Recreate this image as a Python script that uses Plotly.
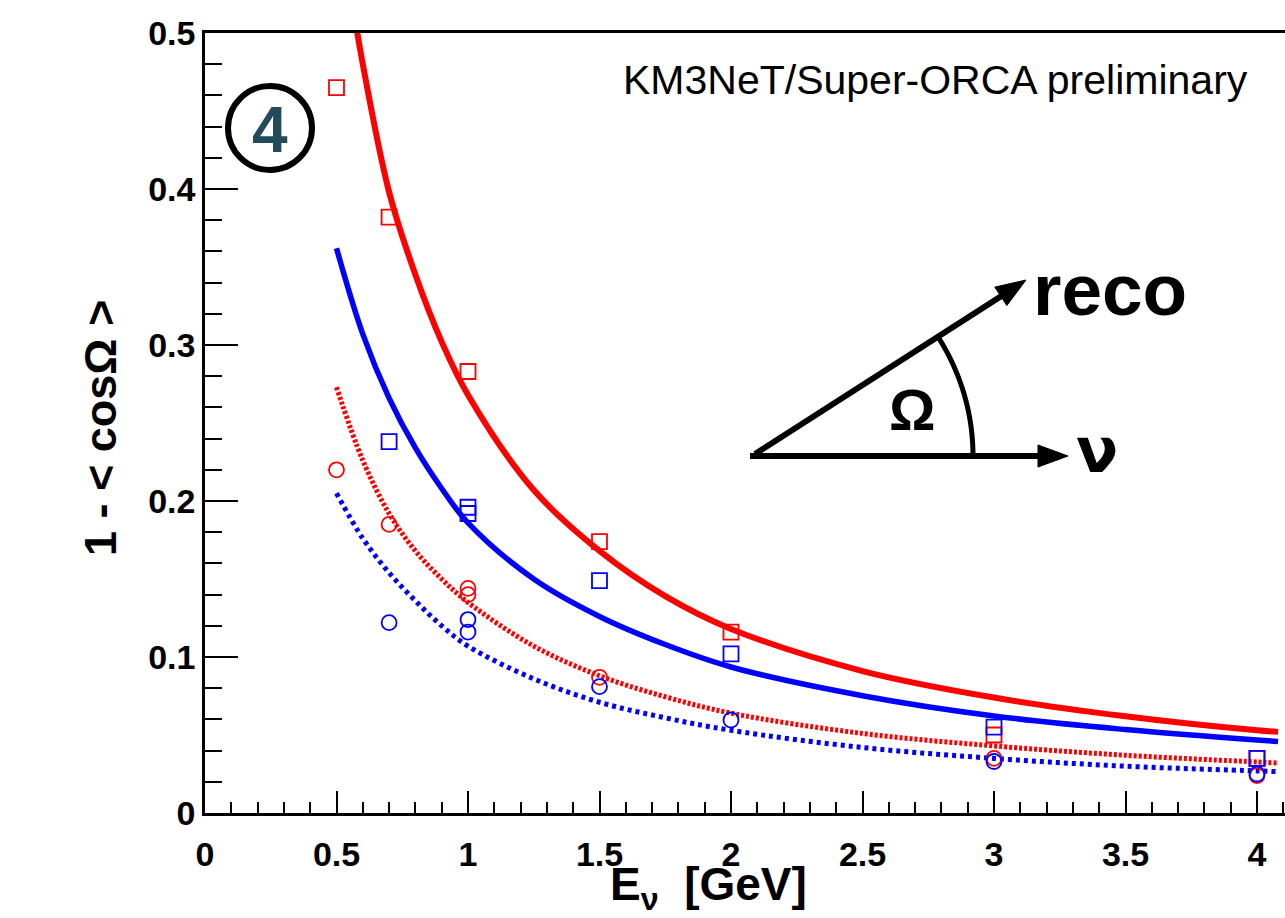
import math
import plotly.graph_objects as go

# ---------------- data ----------------
# markers
E_red_sq = [0.5, 0.7, 1.0, 1.5, 2.0, 3.0, 4.0]
red_sq = [0.465, 0.382, 0.283, 0.174, 0.116, 0.050, 0.035]

E_blue_sq = [0.7, 1.0, 1.0, 1.5, 2.0, 3.0, 4.0]
blue_sq = [0.238, 0.196, 0.192, 0.149, 0.102, 0.055, 0.035]

E_red_ci = [0.5, 0.7, 1.0, 1.0, 1.5, 3.0, 4.0]
red_ci = [0.220, 0.185, 0.144, 0.140, 0.087, 0.035, 0.024]

E_blue_ci = [0.7, 1.0, 1.0, 1.5, 2.0, 3.0, 4.0]
blue_ci = [0.122, 0.124, 0.116, 0.081, 0.0596, 0.033, 0.025]

# fitted curves
E_red_fit = [0.56, 0.6, 0.7, 0.8, 0.9, 1.0, 1.25, 1.5, 1.75, 2.0, 2.5, 3.0, 3.5, 4.0, 4.08]
red_fit = [0.520, 0.480, 0.398, 0.345, 0.302, 0.268, 0.207, 0.168, 0.139, 0.118, 0.091, 0.074, 0.062, 0.053, 0.052]

E_blue_fit = [0.5, 0.6, 0.7, 0.8, 0.9, 1.0, 1.25, 1.5, 1.75, 2.0, 2.5, 3.0, 3.5, 4.0, 4.08]
blue_fit = [0.362, 0.307, 0.266, 0.234, 0.208, 0.186, 0.150, 0.126, 0.108, 0.0936, 0.0752, 0.0622, 0.0535, 0.0468, 0.0459]

E_red_dot = [0.5, 0.6, 0.7, 0.8, 0.9, 1.0, 1.25, 1.5, 1.75, 2.0, 2.5, 3.0, 3.5, 4.0, 4.08]
red_dot = [0.273, 0.226, 0.192, 0.168, 0.150, 0.135, 0.107, 0.088, 0.0745, 0.064, 0.051, 0.043, 0.037, 0.0327, 0.032]

E_blue_dot = [0.5, 0.6, 0.7, 0.8, 0.9, 1.0, 1.25, 1.5, 1.75, 2.0, 2.5, 3.0, 3.5, 4.0, 4.08]
blue_dot = [0.205, 0.176, 0.154, 0.136, 0.120, 0.107, 0.086, 0.071, 0.061, 0.053, 0.042, 0.035, 0.030, 0.027, 0.0265]

x_tickvals = [0, 0.5, 1, 1.5, 2, 2.5, 3, 3.5, 4]
x_ticktext = ["0", "0.5", "1", "1.5", "2", "2.5", "3", "3.5", "4"]
y_tickvals = [0, 0.1, 0.2, 0.3, 0.4, 0.5]
y_ticktext = ["0", "0.1", "0.2", "0.3", "0.4", "0.5"]

RED = "#ff0000"
BLUE = "#0000ff"
FONT = "Liberation Sans, Arial, Helvetica, sans-serif"

W, H = 1285, 918
L, R, T, B = 205, 0, 33, 105
PW, PH = W - L - R, H - T - B


def pxx(x):
    return (x - L) / PW


def pxy(y):
    return (H - B - y) / PH


fig = go.Figure()

# curves
fig.add_trace(go.Scatter(x=E_blue_dot, y=blue_dot, mode="lines", line=dict(color=BLUE, width=5, dash="4px,4px", shape="spline")))
fig.add_trace(go.Scatter(x=E_red_dot, y=red_dot, mode="lines", line=dict(color=RED, width=5, dash="3px,2px", shape="spline")))
fig.add_trace(go.Scatter(x=E_blue_fit, y=blue_fit, mode="lines", line=dict(color=BLUE, width=5.5, shape="spline")))
fig.add_trace(go.Scatter(x=E_red_fit, y=red_fit, mode="lines", line=dict(color=RED, width=6, shape="spline")))

# markers
fig.add_trace(go.Scatter(x=E_red_sq, y=red_sq, mode="markers",
                         marker=dict(symbol="square-open", size=15, color=RED, line=dict(width=1.8, color=RED))))
fig.add_trace(go.Scatter(x=E_red_ci, y=red_ci, mode="markers",
                         marker=dict(symbol="circle-open", size=15, color=RED, line=dict(width=1.8, color=RED))))
fig.add_trace(go.Scatter(x=E_blue_sq, y=blue_sq, mode="markers",
                         marker=dict(symbol="square-open", size=15, color=BLUE, line=dict(width=1.8, color=BLUE))))
fig.add_trace(go.Scatter(x=E_blue_ci, y=blue_ci, mode="markers",
                         marker=dict(symbol="circle-open", size=15, color=BLUE, line=dict(width=1.8, color=BLUE))))

shapes = []
annotations = []

# circled "4"
cx, cy, rr = 270, 128, 42
shapes.append(dict(type="circle", xref="paper", yref="paper",
                   x0=pxx(cx - rr), x1=pxx(cx + rr), y0=pxy(cy + rr), y1=pxy(cy - rr),
                   line=dict(color="black", width=6)))
annotations.append(dict(xref="paper", yref="paper", x=pxx(cx), y=pxy(cy + 2), text="<b>4</b>",
                        showarrow=False, xanchor="center", yanchor="middle",
                        font=dict(family=FONT, size=64, color="#244b5a")))

# angle diagram
ox, oy = 755, 456
# nu line
shapes.append(dict(type="line", xref="paper", yref="paper", x0=pxx(750), y0=pxy(oy), x1=pxx(1045), y1=pxy(oy),
                   line=dict(color="black", width=6)))
tip = (1068, oy)
shapes.append(dict(type="path", xref="paper", yref="paper",
                   path=f"M {pxx(tip[0])},{pxy(tip[1])} L {pxx(tip[0]-30)},{pxy(tip[1]-11)} L {pxx(tip[0]-30)},{pxy(tip[1]+11)} Z",
                   fillcolor="black", line=dict(color="black", width=1)))
# reco line
rtip = (1026, 280)
dx, dy = rtip[0] - ox, rtip[1] - oy
ln = math.hypot(dx, dy)
ux, uy = dx / ln, dy / ln
nx, ny = -uy, ux
bx, by = rtip[0] - 30 * ux, rtip[1] - 30 * uy
shapes.append(dict(type="line", xref="paper", yref="paper", x0=pxx(ox), y0=pxy(oy - 2), x1=pxx(bx + 4 * ux), y1=pxy(by + 4 * uy),
                   line=dict(color="black", width=6)))
shapes.append(dict(type="path", xref="paper", yref="paper",
                   path=(f"M {pxx(rtip[0])},{pxy(rtip[1])} L {pxx(bx + 11*nx)},{pxy(by + 11*ny)} "
                         f"L {pxx(bx - 11*nx)},{pxy(by - 11*ny)} Z"),
                   fillcolor="black", line=dict(color="black", width=1)))
# arc
rad = 220
a1 = math.atan2(-(dy), dx)
pts = []
n = 30
for i in range(n + 1):
    a = a1 * i / n
    pts.append((ox - 2 + rad * math.cos(a), oy - rad * math.sin(a)))
path = "M " + " L ".join(f"{pxx(x)},{pxy(y)}" for x, y in pts)
shapes.append(dict(type="path", xref="paper", yref="paper", path=path, line=dict(color="black", width=5)))

annotations.append(dict(xref="paper", yref="paper", x=pxx(1031), y=pxy(289), text="<b>reco</b>",
                        showarrow=False, xanchor="left", yanchor="middle",
                        font=dict(family=FONT, size=73, color="black")))
annotations.append(dict(xref="paper", yref="paper", x=pxx(1074), y=pxy(450), text="<b>ν</b>",
                        showarrow=False, xanchor="left", yanchor="middle",
                        font=dict(family="DejaVu Sans, " + FONT, size=62, color="black")))
annotations.append(dict(xref="paper", yref="paper", x=pxx(912), y=pxy(410), text="<b>Ω</b>",
                        showarrow=False, xanchor="center", yanchor="middle",
                        font=dict(family=FONT, size=58, color="black")))

# header text
annotations.append(dict(xref="paper", yref="paper", x=pxx(1250), y=pxy(80), text="KM3NeT/Super-ORCA preliminary",
                        showarrow=False, xanchor="right", yanchor="middle",
                        font=dict(family=FONT, size=41, color="black")))

# axis titles
annotations.append(dict(xref="paper", yref="paper", x=pxx(708), y=pxy(918), text="<b>E<sub>ν</sub>  [GeV]</b>",
                        showarrow=False, xanchor="center", yanchor="bottom", borderpad=0,
                        font=dict(family=FONT, size=46, color="black")))
annotations.append(dict(xref="paper", yref="paper", x=pxx(100), y=pxy(428), text="<b>1 - < cosΩ ></b>",
                        showarrow=False, xanchor="center", yanchor="middle", textangle=-90,
                        font=dict(family=FONT, size=45, color="black")))

fig.update_layout(
    width=W, height=H,
    margin=dict(l=L, r=R, t=T, b=B, pad=0),
    plot_bgcolor="white", paper_bgcolor="white",
    showlegend=False,
    shapes=shapes, annotations=annotations,
    xaxis=dict(range=[0, (W - L) / 263.0], tickvals=x_tickvals, ticktext=x_ticktext,
               ticks="inside", ticklen=22, tickwidth=2, tickcolor="black",
               showline=True, linewidth=2.5, linecolor="black", mirror=True,
               showgrid=False, zeroline=False,
               tickfont=dict(family=FONT, size=34, color="black", weight="bold"),
               ticklabelstandoff=9,
               minor=dict(ticks="inside", ticklen=11, tickwidth=2, tickcolor="black", dtick=0.1, tick0=0, showgrid=False)),
    yaxis=dict(range=[0, 0.5], tickvals=y_tickvals, ticktext=y_ticktext,
               ticks="inside", ticklen=33, tickwidth=2, tickcolor="black",
               showline=True, linewidth=2.5, linecolor="black", mirror=False,
               showgrid=False, zeroline=False,
               tickfont=dict(family=FONT, size=34, color="black", weight="bold"),
               ticklabelstandoff=0,
               minor=dict(ticks="inside", ticklen=17, tickwidth=2, tickcolor="black", dtick=0.02, tick0=0, showgrid=False)),
)

fig.write_html("out.html")
